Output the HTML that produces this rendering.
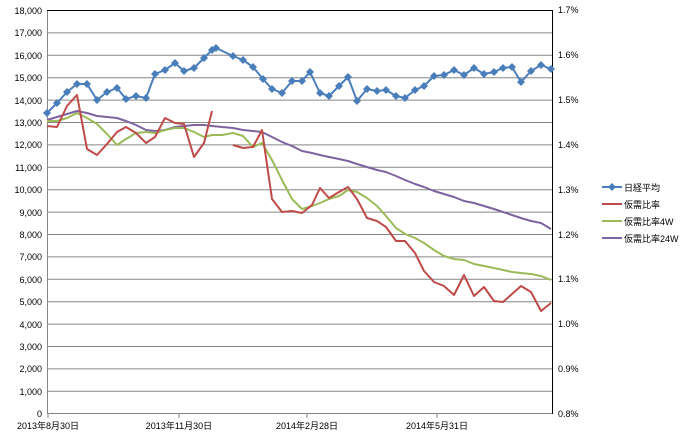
<!DOCTYPE html>
<html><head><meta charset="utf-8"><style>
body{margin:0;background:#fff}
text{font-family:"Liberation Sans","Noto Sans CJK JP",sans-serif;font-size:9px;fill:#000}
</style></head><body>
<svg width="680" height="435" xmlns="http://www.w3.org/2000/svg">
<defs><path id="d" d="M0,-4L4,0L0,4L-4,0Z" fill="#4a7ebb"/></defs>
<g stroke="#868686" stroke-width="1">
<line x1="47" y1="10.5" x2="552" y2="10.5"/><line x1="47" y1="32.9" x2="552" y2="32.9"/><line x1="47" y1="55.3" x2="552" y2="55.3"/><line x1="47" y1="77.7" x2="552" y2="77.7"/><line x1="47" y1="100.1" x2="552" y2="100.1"/><line x1="47" y1="122.5" x2="552" y2="122.5"/><line x1="47" y1="144.9" x2="552" y2="144.9"/><line x1="47" y1="167.3" x2="552" y2="167.3"/><line x1="47" y1="189.7" x2="552" y2="189.7"/><line x1="47" y1="212.1" x2="552" y2="212.1"/><line x1="47" y1="234.5" x2="552" y2="234.5"/><line x1="47" y1="256.9" x2="552" y2="256.9"/><line x1="47" y1="279.3" x2="552" y2="279.3"/><line x1="47" y1="301.7" x2="552" y2="301.7"/><line x1="47" y1="324.1" x2="552" y2="324.1"/><line x1="47" y1="346.5" x2="552" y2="346.5"/><line x1="47" y1="368.9" x2="552" y2="368.9"/><line x1="47" y1="391.3" x2="552" y2="391.3"/>
<line x1="47" y1="413.5" x2="552" y2="413.5"/>
<line x1="47.5" y1="10" x2="47.5" y2="414"/><line x1="552.5" y1="10" x2="552.5" y2="414"/>
<line x1="48" y1="413" x2="48" y2="418"/><line x1="179" y1="413" x2="179" y2="418"/><line x1="307" y1="413" x2="307" y2="418"/><line x1="437" y1="413" x2="437" y2="418"/>
</g>
<line x1="47" y1="10.5" x2="552" y2="10.5" stroke="#000"/>
<line x1="552.5" y1="10" x2="552.5" y2="414" stroke="#000"/>
<g text-anchor="end">
<text x="42" y="14">18,000</text><text x="42" y="36">17,000</text><text x="42" y="59">16,000</text><text x="42" y="81">15,000</text><text x="42" y="104">14,000</text><text x="42" y="126">13,000</text><text x="42" y="148">12,000</text><text x="42" y="171">11,000</text><text x="42" y="193">10,000</text><text x="42" y="216">9,000</text><text x="42" y="238">8,000</text><text x="42" y="260">7,000</text><text x="42" y="283">6,000</text><text x="42" y="305">5,000</text><text x="42" y="328">4,000</text><text x="42" y="350">3,000</text><text x="42" y="372">2,000</text><text x="42" y="395">1,000</text><text x="42" y="417">0</text>
</g>
<g font-size="8">
<text x="558" y="13">1.7%</text><text x="558" y="58">1.6%</text><text x="558" y="103">1.5%</text><text x="558" y="148">1.4%</text><text x="558" y="193">1.3%</text><text x="558" y="238">1.2%</text><text x="558" y="282">1.1%</text><text x="558" y="327">1.0%</text><text x="558" y="372">0.9%</text><text x="558" y="417">0.8%</text>
</g>
<g text-anchor="middle"><text x="48" y="429">2013年8月30日</text><text x="179" y="429">2013年11月30日</text><text x="307" y="429">2014年2月28日</text><text x="437" y="429">2014年5月31日</text></g>
<g fill="none" stroke-width="2" stroke-linejoin="round">
<polyline stroke="#7e63a0" points="47,120 57,117 67,114 77,111 87,113 97,116 107,117 117,118 126,121 136,125 146,130 155,131 165,130 175,127 184,126 194,125 204,125 212,126 222,127 233,128 243,130 253,131 262,132 272,137 282,142 292,146 302,151 312,153 320,155 329,157 339,159 348,161 357,164 367,167 377,170 386,172 396,176 405,180 415,184 424,187 434,191 444,194 454,197 464,201 474,203 484,206 494,209 503,212 512,215 521,218 531,221 541,223 551,229"/>
<polyline stroke="#9bbb59" points="47,121 57,121 67,118 77,113 87,118 97,124 107,134 117,145 126,139 136,133 146,132 155,133 165,130 175,128 184,128 194,132 204,137 212,135 222,135 233,133 243,136 253,147 262,143 272,160 282,180 292,199 302,209 312,206 320,203 329,199 339,196 348,190 357,192 367,198 377,206 386,216 396,228 405,234 415,238 424,243 434,250 444,256 454,259 464,260 474,264 484,266 494,268 503,270 512,272 521,273 531,274 541,276 551,280"/>
<polyline stroke="#be4b48" points="47,126 57,127 67,106 77,95 87,149 97,155 107,144 117,132 126,127 136,133 146,143 155,137 165,118 175,123 184,124 194,157 204,143 212,111"/>
<polyline stroke="#be4b48" points="233,145 243,148 253,147 262,130 272,199 282,212 292,211 302,213 312,205 320,188 329,198 339,192 348,187 357,199 367,218 377,221 386,227 396,241 405,241 415,253 424,271 434,282 444,286 454,295 464,275 474,296 484,287 494,301 503,302 512,294 521,286 531,292 541,311 551,303"/>
<polyline stroke="#4a7ebb" points="47,113 57,103 67,92 77,84 87,84 97,100 107,92 117,88 126,99 136,96 146,98 155,74 165,70 175,63 184,71 194,68 204,58 212,50 216,48 233,56 243,60 253,67 263,79 272,89 282,93 292,81 302,81 310,72 320,93 329,96 339,86 348,77 357,101 367,89 377,91 386,90 396,96 405,98 415,90 424,86 434,76 444,75 454,70 464,75 474,68 484,74 494,72 503,68 512,67 521,82 531,71 541,65 551,69"/>
</g>
<g>
<use href="#d" x="47" y="113"/><use href="#d" x="57" y="103"/><use href="#d" x="67" y="92"/><use href="#d" x="77" y="84"/><use href="#d" x="87" y="84"/><use href="#d" x="97" y="100"/><use href="#d" x="107" y="92"/><use href="#d" x="117" y="88"/><use href="#d" x="126" y="99"/><use href="#d" x="136" y="96"/><use href="#d" x="146" y="98"/><use href="#d" x="155" y="74"/><use href="#d" x="165" y="70"/><use href="#d" x="175" y="63"/><use href="#d" x="184" y="71"/><use href="#d" x="194" y="68"/><use href="#d" x="204" y="58"/><use href="#d" x="212" y="50"/><use href="#d" x="216" y="48"/><use href="#d" x="233" y="56"/><use href="#d" x="243" y="60"/><use href="#d" x="253" y="67"/><use href="#d" x="263" y="79"/><use href="#d" x="272" y="89"/><use href="#d" x="282" y="93"/><use href="#d" x="292" y="81"/><use href="#d" x="302" y="81"/><use href="#d" x="310" y="72"/><use href="#d" x="320" y="93"/><use href="#d" x="329" y="96"/><use href="#d" x="339" y="86"/><use href="#d" x="348" y="77"/><use href="#d" x="357" y="101"/><use href="#d" x="367" y="89"/><use href="#d" x="377" y="91"/><use href="#d" x="386" y="90"/><use href="#d" x="396" y="96"/><use href="#d" x="405" y="98"/><use href="#d" x="415" y="90"/><use href="#d" x="424" y="86"/><use href="#d" x="434" y="76"/><use href="#d" x="444" y="75"/><use href="#d" x="454" y="70"/><use href="#d" x="464" y="75"/><use href="#d" x="474" y="68"/><use href="#d" x="484" y="74"/><use href="#d" x="494" y="72"/><use href="#d" x="503" y="68"/><use href="#d" x="512" y="67"/><use href="#d" x="521" y="82"/><use href="#d" x="531" y="71"/><use href="#d" x="541" y="65"/><use href="#d" x="551" y="69"/>
</g>
<g stroke-width="2">
<line x1="602" y1="187" x2="622" y2="187" stroke="#4a7ebb"/><use href="#d" x="612" y="187"/>
<line x1="602" y1="204" x2="622" y2="204" stroke="#be4b48"/>
<line x1="602" y1="221" x2="622" y2="221" stroke="#9bbb59"/>
<line x1="602" y1="238" x2="622" y2="238" stroke="#7e63a0"/>
</g>
<text x="624" y="191">日経平均</text><text x="624" y="208">仮需比率</text><text x="624" y="225">仮需比率4W</text><text x="624" y="242">仮需比率24W</text>
</svg>
</body></html>
